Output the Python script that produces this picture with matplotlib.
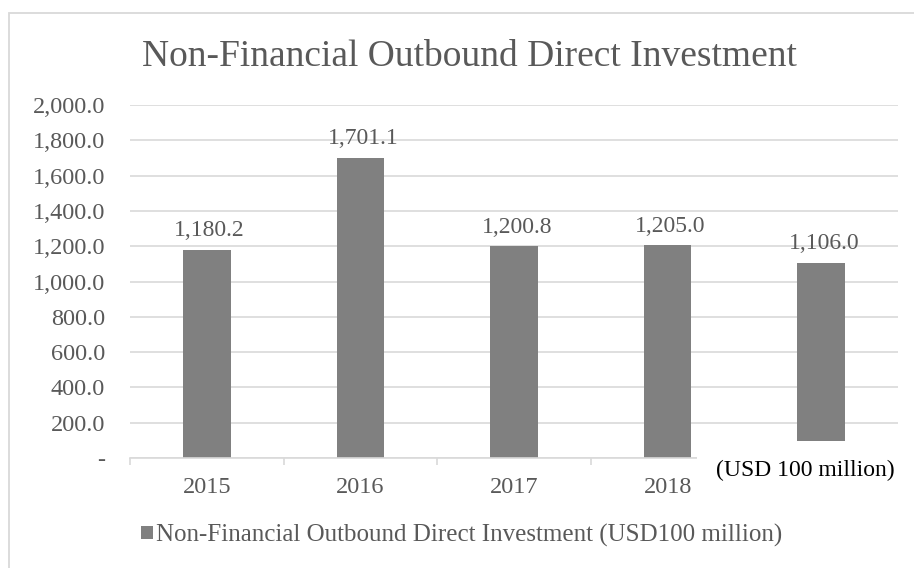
import matplotlib.pyplot as plt
from matplotlib.patches import Rectangle
from matplotlib.ticker import FuncFormatter

categories = ['2015', '2016', '2017', '2018', '']
values = [1180.2, 1701.1, 1200.8, 1205.0, 1106.0]
unit_label = '(USD 100 million)'
series_name = 'Non-Financial Outbound Direct Investment (USD100 million)'
title = 'Non-Financial Outbound Direct Investment'
yticks = [0, 200, 400, 600, 800, 1000, 1200, 1400, 1600, 1800, 2000]

plt.rcParams['font.family'] = ['Liberation Serif', 'DejaVu Serif']
txt = '#595959'

fig = plt.figure(figsize=(9.14, 5.68), dpi=100)
# outer chart border (open on right and bottom)
fig.patches.append(Rectangle((9 / 914, -0.1), 1.2, (568 - 13) / 568 + 0.1,
                             transform=fig.transFigure, fill=False,
                             edgecolor='#d9d9d9', linewidth=1.3))

ax = fig.add_axes([130 / 914, (568 - 458) / 568, (898 - 130) / 914, (458 - 105) / 568])
x = range(len(categories))
bars = ax.bar(x, values, width=0.31, color='#808080', label=series_name, zorder=2)
ax.set_xlim(-0.5, len(categories) - 0.5)
ax.set_ylim(0, 2000)
ax.set_yticks(yticks)
ax.yaxis.set_major_formatter(FuncFormatter(lambda v, p: '-' if v == 0 else f'{v:,.1f}'))
ax.grid(axis='y', color='#d9d9d9', linewidth=1.2, zorder=0)
for s in ['top', 'right', 'left']:
    ax.spines[s].set_visible(False)
ax.spines['bottom'].set_color('#d9d9d9')
ax.spines['bottom'].set_linewidth(1.2)
ax.set_xticks([i - 0.5 for i in range(len(categories) + 1)], minor=False)
ax.set_xticklabels([])
ax.set_xticks(list(x), minor=True)
ax.set_xticklabels(categories, minor=True)
ax.tick_params(axis='x', which='major', length=5, color='#d9d9d9', width=1.2)
ax.tick_params(axis='x', which='minor', length=0, pad=14, labelsize=17.5, labelcolor=txt)
ax.tick_params(axis='y', length=0, pad=18, labelsize=17.5, labelcolor=txt)

for b, v in zip(bars, values):
    ax.annotate(f'{v:,.1f}', (b.get_x() + b.get_width() / 2, v), xytext=(2, 6),
                textcoords='offset points', ha='center', va='bottom',
                fontsize=17, color=txt)

# unit label box laid over the last category
ax.annotate(unit_label, (len(categories) - 1, 0), xytext=(-11.5, -9),
            textcoords='offset points', ha='center', va='center', fontsize=17,
            color='black', zorder=5, annotation_clip=False,
            bbox=dict(boxstyle='square,pad=0.8', facecolor='white', edgecolor='none'))

fig.text(469 / 914, 1 - 57 / 568, title, ha='center', va='center', fontsize=27, color=txt)
fig.legend(loc='center', bbox_to_anchor=(462 / 914, 1 - 535 / 568), frameon=False,
           fontsize=18, labelcolor=txt, handlelength=0.45, handleheight=0.45,
           handletextpad=0.15)

fig.savefig('out.png', dpi=100)
